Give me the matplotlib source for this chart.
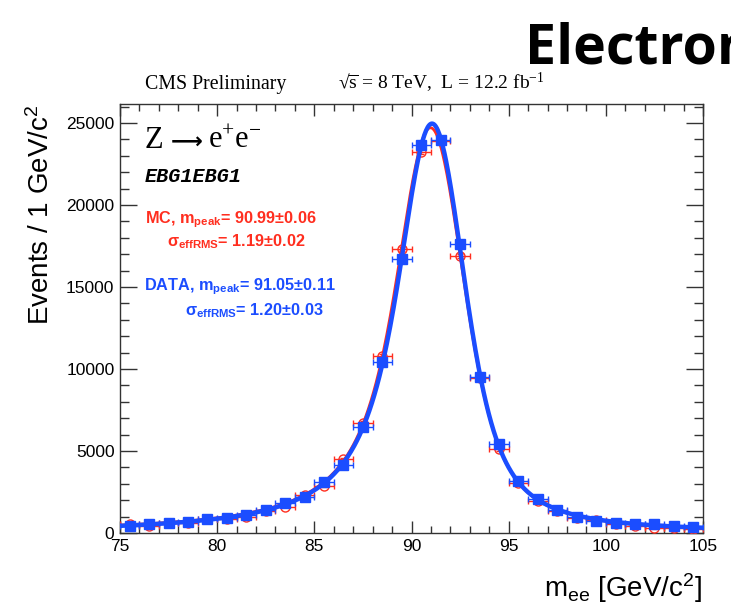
import numpy as np
import matplotlib
matplotlib.use("Agg")
import matplotlib.pyplot as plt
from matplotlib.ticker import MultipleLocator

plt.rcParams["mathtext.default"] = "regular"

# --- data: events per 1 GeV bin ---
mass_bins = np.arange(75.5, 105.0, 1.0)
data_counts = [445, 550, 590, 690, 835, 935, 1115, 1385, 1810, 2215,
               3090, 4150, 6480, 10430, 16690, 23650, 23960, 17620, 9510, 5430,
               3190, 2050, 1400, 995, 750, 630, 550, 530, 410, 385]
mc_counts = [550, 430, 630, 630, 835, 835, 1000, 1350, 1600, 2320,
             2870, 4510, 6730, 10790, 17320, 23250, 23900, 16910, 9450, 5100,
             3030, 1970, 1340, 900, 790, 550, 445, 290, 290, 225]

x_ticks = [75, 80, 85, 90, 95, 100, 105]
y_ticks = [0, 5000, 10000, 15000, 20000, 25000]

RED = "#ff2e1f"
BLUE = "#1b4dff"
W, H = 731, 605

# Z line shape: Breit-Wigner convolved with a Crystal Ball resolution
MZ, GZ = 91.1876, 2.4952
T = np.arange(-20.0, 20.0, 0.02)


def crystal_ball(t, dm, sigma, alpha, n):
    z = (t - dm) / sigma
    a = abs(alpha)
    A = (n / a) ** n * np.exp(-0.5 * a * a)
    B = n / a - a
    out = np.exp(-0.5 * z * z)
    low = z < -a
    out[low] = A * (B - z[low]) ** (-n)
    return out


def bw_cb(x, dm, sigma, alpha, n):
    cb = crystal_ball(T, dm, sigma, alpha, n)
    cb = cb / (cb.sum() * 0.02)
    d = x[:, None] - T[None, :]
    bw = (GZ / (2 * np.pi)) / ((d - MZ) ** 2 + (GZ / 2) ** 2)
    return (bw * cb[None, :]).sum(axis=1) * 0.02


def model(p, x):
    norm, dm, sigma, alpha, n, b0 = p
    return norm * bw_cb(x, dm, sigma, alpha, n) + b0


LO = np.array([1e3, -2.0, 0.3, 0.2, 1.01, 0.0])
HI = np.array([1e7, 2.0, 4.0, 5.0, 30.0, 2000.0])


def fit(x, y):
    """Levenberg-Marquardt fit of the line shape to the binned counts."""
    y = np.asarray(y, float)
    w = 1.0 / np.sqrt(np.maximum(y, 1.0))
    best = None
    for a0 in (0.8, 1.5):
        p = np.array([y.sum(), 0.0, 1.0, a0, 3.0, 100.0])
        lam = 1e-3
        c = np.sum(((model(p, x) - y) * w) ** 2)
        for _ in range(120):
            J = np.empty((len(x), len(p)))
            for k in range(len(p)):
                dp = np.zeros_like(p)
                dp[k] = 1e-5 * max(abs(p[k]), 0.1)
                J[:, k] = (model(p + dp, x) - model(p - dp, x)) / (2 * dp[k]) * w
            r = (y - model(p, x)) * w
            A = J.T @ J
            g = J.T @ r
            step = np.linalg.solve(A + lam * np.diag(np.diag(A)) + 1e-12 * np.eye(len(p)), g)
            pn = np.clip(p + step, LO, HI)
            cn = np.sum(((model(pn, x) - y) * w) ** 2)
            if cn < c:
                p, c, lam = pn, cn, lam * 0.3
            else:
                lam *= 4
        if best is None or c < best[1]:
            best = (p, c)
    return best[0]


p_mc = fit(mass_bins, mc_counts)
p_data = fit(mass_bins, data_counts)
xs = np.linspace(75, 105, 700)

fig = plt.figure(figsize=(W / 100, H / 100), dpi=100)
ax = fig.add_axes([120 / W, 1 - 533 / H, (703 - 120) / W, (533 - 104) / H])

# MC: open red circles, then its fit
ax.errorbar(mass_bins, mc_counts, xerr=0.5, yerr=np.sqrt(mc_counts), fmt="o",
            ms=6.5, mfc="none", mec=RED, mew=1.0, ecolor=RED, elinewidth=1.0,
            capsize=2.5, capthick=1.0, zorder=3)
ax.plot(xs, model(p_mc, xs), color=RED, lw=2.0, zorder=4)

# Data: filled blue squares, then its fit
ax.errorbar(mass_bins, data_counts, xerr=0.5, yerr=np.sqrt(data_counts), fmt="s",
            ms=6.5, mfc=BLUE, mec=BLUE, ecolor=BLUE, elinewidth=1.0,
            capsize=2.5, capthick=1.0, zorder=5)
ax.plot(xs, model(p_data, xs), color=BLUE, lw=3.2, zorder=6)

ax.set_xlim(75, 105)
ax.set_ylim(0, 25000 * 429 / 410)
ax.set_xticks(x_ticks)
ax.set_yticks(y_ticks)
ax.set_xticklabels([str(t) for t in x_ticks])
ax.set_yticklabels([str(t) for t in y_ticks])
ax.xaxis.set_minor_locator(MultipleLocator(1))
ax.yaxis.set_minor_locator(MultipleLocator(1000))
ax.tick_params(which="both", direction="in", top=True, right=True,
               labelsize=12.5, width=1.0, color="#333333")
ax.tick_params(axis="x", which="major", length=8.6, pad=4)
ax.tick_params(axis="x", which="minor", length=5)
ax.tick_params(axis="y", which="major", length=12, pad=4)
ax.tick_params(axis="y", which="minor", length=6.5)
for lab in ax.get_xticklabels() + ax.get_yticklabels():
    lab.set_family("Liberation Sans")
for sp in ax.spines.values():
    sp.set_linewidth(1.0)
    sp.set_color("#333333")


def ftext(x, y, s, **kw):
    return fig.text(x / W, 1 - y / H, s, **kw)


# header
ftext(525, 63.5, "Electron", family="Open Sans", weight="bold", size=40,
      va="baseline", ha="left")
ftext(145, 89, "CMS Preliminary", family="Liberation Serif", size=14.3,
      va="baseline")
ftext(338, 89, r"√$\overline{s}$ = 8 TeV,  L = 12.2 fb$^{-1}$",
      family="Liberation Serif", size=14, va="baseline")

# axis titles
ftext(41, 105, "Events / 1 GeV/c$^{2}$", family="Liberation Sans", size=20,
      rotation=90, ha="center", va="top")
ftext(702, 597, "m$_{ee}$ [GeV/c$^{2}$]", family="Liberation Sans", size=20,
      ha="right", va="baseline")

# in-frame annotations
ftext(145, 148, "Z", family="Liberation Serif", size=22, va="baseline")
ftext(171, 148, "⟶", family=["DejaVu Sans", "Liberation Serif"], size=16,
      weight="bold", va="baseline")
ftext(208, 148, "e$^{+}$e$^{-}$", family="Liberation Serif", size=22,
      va="baseline")
ftext(145, 182, "EBG1EBG1", family="Liberation Mono", weight="bold",
      style="italic", size=14.5, va="baseline")
ftext(145, 223, "MC, m$_{peak}$= 90.99±0.06", family="Liberation Sans",
      weight="bold", size=11.7, color=RED, va="baseline")
ftext(167, 246, "σ$_{effRMS}$= 1.19±0.02", family="Liberation Sans",
      weight="bold", size=11.7, color=RED, va="baseline")
ftext(143.5, 290, "DATA, m$_{peak}$= 91.05±0.11", family="Liberation Sans",
      weight="bold", size=11.7, color=BLUE, va="baseline")
ftext(185, 315, "σ$_{effRMS}$= 1.20±0.03", family="Liberation Sans",
      weight="bold", size=11.7, color=BLUE, va="baseline")

fig.savefig("out.png", dpi=100)
